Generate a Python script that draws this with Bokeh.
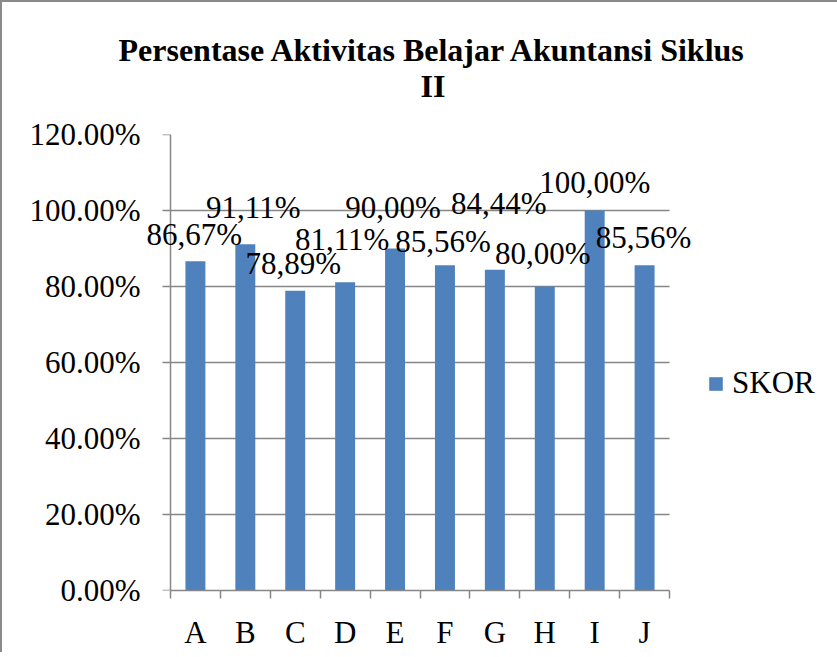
from bokeh.plotting import figure
from bokeh.models import (ColumnDataSource, FixedTicker, Label, Legend,
                          LegendItem, Title, Range1d, LinearAxis)
from bokeh.embed import file_html
from bokeh.resources import INLINE

# ---- data ----
CATEGORIES = ["A", "B", "C", "D", "E", "F", "G", "H", "I", "J"]
SKOR = [86.67, 91.11, 78.89, 81.11, 90.00, 85.56, 84.44, 80.00, 100.00, 85.56]
Y_TICKS = [0, 20, 40, 60, 80, 100, 120]
Y_TICK_LABELS = ["0.00%", "20.00%", "40.00%", "60.00%", "80.00%", "100.00%", "120.00%"]
SERIES_NAME = "SKOR"
TITLE_LINES = ["Persentase Aktivitas Belajar Akuntansi Siklus", "II"]

# ---- label placement (screen px, layout only) ----
LABEL_DX = [-1, 8, -2, -3, -2, -2, 4, -2, 0, -1]
LABEL_DY = [27, 37, 27, 43, 41, 24, 66, 33, 28, 28]

FONT = "Liberation Serif"
BAR = "#4F81BD"
GRID = "#868686"
FS = "31px"

n = len(CATEGORIES)
xs = [i + 0.5 for i in range(n)]
labels = [("%.2f" % v).replace(".", ",") + "%" for v in SKOR]
src = ColumnDataSource(dict(x=xs, skor=SKOR))

p = figure(frame_width=549, frame_height=456,
           min_border_left=143, min_border_right=133,
           min_border_top=132, min_border_bottom=57,
           x_range=Range1d(-0.5, n + 0.5), y_range=Range1d(0, 120),
           output_backend="svg", toolbar_location=None, title=None,
           styles={"border-left": "2px solid #8a8a8a", "border-top": "2px solid #8a8a8a"})
p.outline_line_color = None
p.background_fill_color = "white"
p.border_fill_color = "white"

bars = p.vbar(x="x", top="skor", width=0.4, source=src, fill_color=BAR, line_color=None)

# x axis: labels at category centres, ticks at category boundaries
p.xaxis.ticker = FixedTicker(ticks=xs, minor_ticks=list(range(n + 1)))
p.xaxis.bounds = (0, n)
p.xaxis.major_label_overrides = {x: c for x, c in zip(xs, CATEGORIES)}
p.xaxis.major_tick_out = 0
p.xaxis.major_tick_in = 0
p.xaxis.minor_tick_out = 8
p.xaxis.minor_tick_in = 0
p.xaxis.minor_tick_line_color = GRID
p.xaxis.minor_tick_line_width = 1.5
p.xaxis.axis_line_color = GRID
p.xaxis.axis_line_width = 1.5
p.xaxis.major_label_standoff = 16
p.xaxis.major_label_text_font = FONT
p.xaxis.major_label_text_font_size = FS
p.xaxis.major_label_text_color = "black"

# y axis labels (left panel)
p.yaxis.ticker = FixedTicker(ticks=Y_TICKS)
p.yaxis.major_label_overrides = {t: l for t, l in zip(Y_TICKS, Y_TICK_LABELS)}
p.yaxis.major_tick_out = 0
p.yaxis.major_tick_in = 0
p.yaxis.major_tick_line_color = None
p.yaxis.minor_tick_line_color = None
p.yaxis.axis_line_color = None
p.yaxis.major_label_standoff = 5
p.yaxis.major_label_text_font = FONT
p.yaxis.major_label_text_font_size = FS
p.yaxis.major_label_text_color = "black"

# y axis line and ticks at x = 0
yline = LinearAxis(fixed_location=0, ticker=FixedTicker(ticks=Y_TICKS),
                   major_label_overrides={t: "" for t in Y_TICKS},
                   major_label_text_font_size="0px",
                   major_tick_out=8, major_tick_in=0,
                   major_tick_line_color=GRID, major_tick_line_width=1.5,
                   minor_tick_line_color=None,
                   axis_line_color=GRID, axis_line_width=1.5)
p.add_layout(yline, "left")

p.xgrid.visible = False
p.ygrid.ticker = FixedTicker(ticks=Y_TICKS)
p.ygrid.cross_bounds = (0, n)
p.ygrid.grid_line_color = GRID
p.ygrid.grid_line_width = 1.5

# data labels
for x, v, t, dx, dy in zip(xs, SKOR, labels, LABEL_DX, LABEL_DY):
    p.add_layout(Label(x=x, y=v, text=t, x_offset=dx, y_offset=dy,
                       text_align="center", text_baseline="alphabetic",
                       text_font=FONT, text_font_size=FS, text_color="black"))

# titles (first added is nearest the plot); a blank spacer title sets the gap
TSTYLE = dict(text_font=FONT, text_font_size="32px", text_font_style="bold",
              text_color="black", align="left")
p.add_layout(Title(text=" ", standoff=-7, offset=0, **TSTYLE), "above")
p.add_layout(Title(text=TITLE_LINES[1], standoff=0, offset=275, **TSTYLE), "above")
p.add_layout(Title(text=TITLE_LINES[0], standoff=-4, offset=-27, **TSTYLE), "above")

legend = Legend(items=[LegendItem(label=SERIES_NAME, renderers=[bars])],
                location=(13, 189), glyph_width=17, glyph_height=17,
                label_standoff=8, label_text_font=FONT, label_text_font_size=FS,
                label_text_color="black", border_line_color=None,
                background_fill_alpha=0, padding=0, margin=0, spacing=0)
p.add_layout(legend, "right")

open("out.html", "w").write(file_html(p, INLINE))
